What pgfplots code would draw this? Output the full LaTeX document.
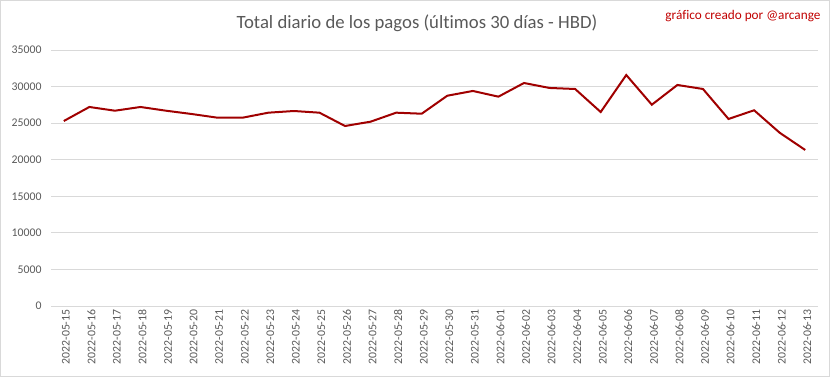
\documentclass[border=0pt]{standalone}
\usepackage{pgfplots}
\pgfplotsset{compat=1.18}
\usepackage{fontspec}
\setmainfont{Carlito}[Ligatures=NoCommon]
\definecolor{txtgray}{HTML}{595959}
\definecolor{gridgray}{HTML}{D9D9D9}
\definecolor{linered}{HTML}{A00000}
\definecolor{credred}{HTML}{C00000}
\begin{document}
\begin{tikzpicture}[x=1bp,y=1bp]
\path (0,0) rectangle (833,379);
\draw[gridgray, line width=1bp] (0.5,2.5) rectangle (829.5,378.5);
\begin{axis}[
  at={(51bp,73bp)}, anchor=south west,
  width=767bp, height=256bp, scale only axis,
  xmin=-0.5, xmax=29.5, ymin=0, ymax=35000,
  ytick={0,5000,...,35000},
  scaled y ticks=false,
  yticklabel={\pgfmathprintnumber[fixed,precision=0,set thousands separator={},assume math mode=true]{\tick}},
  xtick={0,...,29},
  xticklabels={2022-05-15,2022-05-16,2022-05-17,2022-05-18,2022-05-19,2022-05-20,2022-05-21,2022-05-22,2022-05-23,2022-05-24,2022-05-25,2022-05-26,2022-05-27,2022-05-28,2022-05-29,2022-05-30,2022-05-31,2022-06-01,2022-06-02,2022-06-03,2022-06-04,2022-06-05,2022-06-06,2022-06-07,2022-06-08,2022-06-09,2022-06-10,2022-06-11,2022-06-12,2022-06-13},
  axis line style={draw=none},
  major tick length=0pt,
  ymajorgrids, grid style={gridgray, line width=1bp},
  yticklabel style={font=\fontsize{11.8}{13}\selectfont, text=txtgray, anchor=east, xshift=-6bp},
  xticklabel style={font=\fontsize{11.8}{13}\selectfont, text=txtgray, rotate=90, anchor=east, yshift=-2bp},
  clip=false,
]
\addplot[linered, line width=2bp, mark=none] coordinates {
(0,25290) (1,27210) (2,26700) (3,27210) (4,26700) (5,26250) (6,25750) (7,25750) (8,26430) (9,26660)
(10,26430) (11,24610) (12,25200) (13,26430) (14,26290) (15,28750) (16,29400) (17,28620) (18,30490) (19,29810)
(20,29670) (21,26520) (22,31580) (23,27520) (24,30220) (25,29670) (26,25570) (27,26760) (28,23690) (29,21330)
};
\end{axis}
\node[text=txtgray, font=\fontsize{18.8}{22}\selectfont] at (417,356) {Total diario de los pagos (últimos 30 días - HBD)};
\node[text=credred, font=\fontsize{13.3}{16}\selectfont, anchor=east] at (824,363) {gráfico creado por @arcange};
\end{tikzpicture}
\end{document}
